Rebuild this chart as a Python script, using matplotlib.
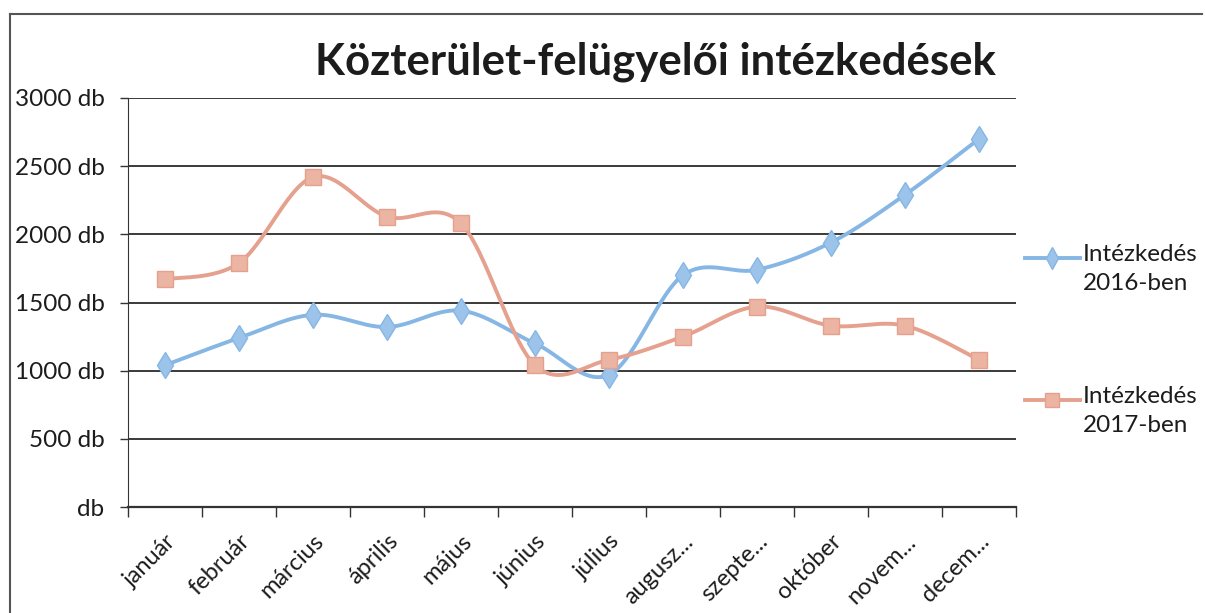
import numpy as np
import matplotlib
matplotlib.use("Agg")
import matplotlib.pyplot as plt
from matplotlib.lines import Line2D

# ---- data ----
months = ["január", "február", "március", "április", "május", "június",
          "július", "augusz...", "szepte...", "október", "novem...", "decem..."]
values_2016 = [1040, 1240, 1410, 1320, 1440, 1200, 970, 1700, 1740, 1940, 2290, 2700]
values_2017 = [1670, 1790, 2420, 2130, 2080, 1040, 1080, 1250, 1470, 1330, 1330, 1080]
series_labels = ["Intézkedés\n2016-ben", "Intézkedés\n2017-ben"]
y_ticks = [0, 500, 1000, 1500, 2000, 2500, 3000]
y_tick_labels = ["db", "500 db", "1000 db", "1500 db", "2000 db", "2500 db", "3000 db"]
title = "Közterület-felügyelői intézkedések"

plt.rcParams['font.family'] = ['Lato', 'DejaVu Sans']

BLUE = "#86b6e4"
BLUE_MK = "#9cc4ea"
RED = "#e6a08e"
RED_MK = "#ecb4a2"
TXT = "#1c1c1c"


def smooth(xs, ys, n=30):
    """Excel-like smoothed line: cubic Bezier segments with Catmull-Rom control points."""
    xs = np.asarray(xs, float)
    ys = np.asarray(ys, float)
    P = np.column_stack([xs, ys])
    out = []
    for i in range(len(P) - 1):
        p0 = P[i - 1] if i > 0 else P[i]
        p1 = P[i]
        p2 = P[i + 1]
        p3 = P[i + 2] if i + 2 < len(P) else P[i + 1]
        c1 = p1 + (p2 - p0) / 6.0
        c2 = p2 - (p3 - p1) / 6.0
        t = np.linspace(0, 1, n)[:, None]
        seg = ((1 - t) ** 3) * p1 + 3 * ((1 - t) ** 2) * t * c1 + 3 * (1 - t) * t ** 2 * c2 + t ** 3 * p2
        out.append(seg if i == 0 else seg[1:])
    arr = np.vstack(out)
    return arr[:, 0], arr[:, 1]


fig = plt.figure(figsize=(12.05, 6.13), dpi=100)
ax = fig.add_axes([128 / 1205, 1 - 507 / 613, (1016 - 128) / 1205, (507 - 98) / 613])

x = np.arange(len(months))

sx, sy = smooth(x, values_2016)
ax.plot(sx, sy, color=BLUE, lw=2.8, zorder=3, solid_capstyle='round')
ax.plot(x, values_2016, linestyle='none', marker='d', markersize=13,
        markerfacecolor=BLUE_MK, markeredgecolor=BLUE, markeredgewidth=1, zorder=4)

sx, sy = smooth(x, values_2017)
ax.plot(sx, sy, color=RED, lw=2.8, zorder=3, solid_capstyle='round')
ax.plot(x, values_2017, linestyle='none', marker='s', markersize=11.5,
        markerfacecolor=RED_MK, markeredgecolor=RED, markeredgewidth=1, zorder=4)

ax.set_xlim(-0.5, len(months) - 0.5)
ax.set_ylim(0, 3000)

ax.set_yticks(y_ticks)
ax.set_yticklabels(y_tick_labels, fontsize=17.5, color=TXT)
ax.tick_params(axis='y', length=6, width=1, pad=11, color="#333333")

ax.set_xticks(x)
ax.set_xticklabels(months, rotation=45, ha='right', rotation_mode='anchor',
                   fontsize=17, color=TXT)
ax.tick_params(axis='x', length=0, pad=17)
ax.set_xticks(np.arange(-0.5, len(months), 1.0), minor=True)
ax.tick_params(axis='x', which='minor', length=7, width=1, color="#333333")

for yv in y_ticks[1:]:
    ax.axhline(yv, color="#3a3a3a", lw=1.4, zorder=1)

for s in ['top', 'right']:
    ax.spines[s].set_visible(False)
ax.spines['left'].set_color("#333333")
ax.spines['bottom'].set_color("#333333")
ax.spines['bottom'].set_linewidth(1.6)

fig.text(655 / 1205, 1 - 62 / 613, title, ha='center', va='center',
         fontsize=31.5, fontweight='bold', color=TXT)

# legend (drawn by hand)
leg_items = [(series_labels[0], BLUE, BLUE_MK, 'd', 258),
             (series_labels[1], RED, RED_MK, 's', 400)]
for lab, c, mk, m, ypx in leg_items:
    yf = 1 - ypx / 613
    fig.add_artist(Line2D([1025 / 1205, 1080 / 1205], [yf, yf], color=c, lw=2.8,
                          transform=fig.transFigure))
    fig.add_artist(Line2D([1052 / 1205], [yf], marker=m, markersize=11 if m == 'd' else 10,
                          markerfacecolor=mk, markeredgecolor=c, markeredgewidth=1,
                          linestyle='none', transform=fig.transFigure))
    fig.text(1083 / 1205, yf + 14 / 613, lab, ha='left', va='top', fontsize=17.5,
             color=TXT, linespacing=1.45)

# chart frame (top and left edges)
fig.add_artist(Line2D([10 / 1205, 1202 / 1205], [1 - 14 / 613, 1 - 14 / 613], color="#555555",
                      lw=1.5, transform=fig.transFigure))
fig.add_artist(Line2D([10 / 1205, 10 / 1205], [0, 1 - 14 / 613], color="#555555",
                      lw=1.5, transform=fig.transFigure))

fig.savefig("out.png", dpi=100, facecolor="white")
